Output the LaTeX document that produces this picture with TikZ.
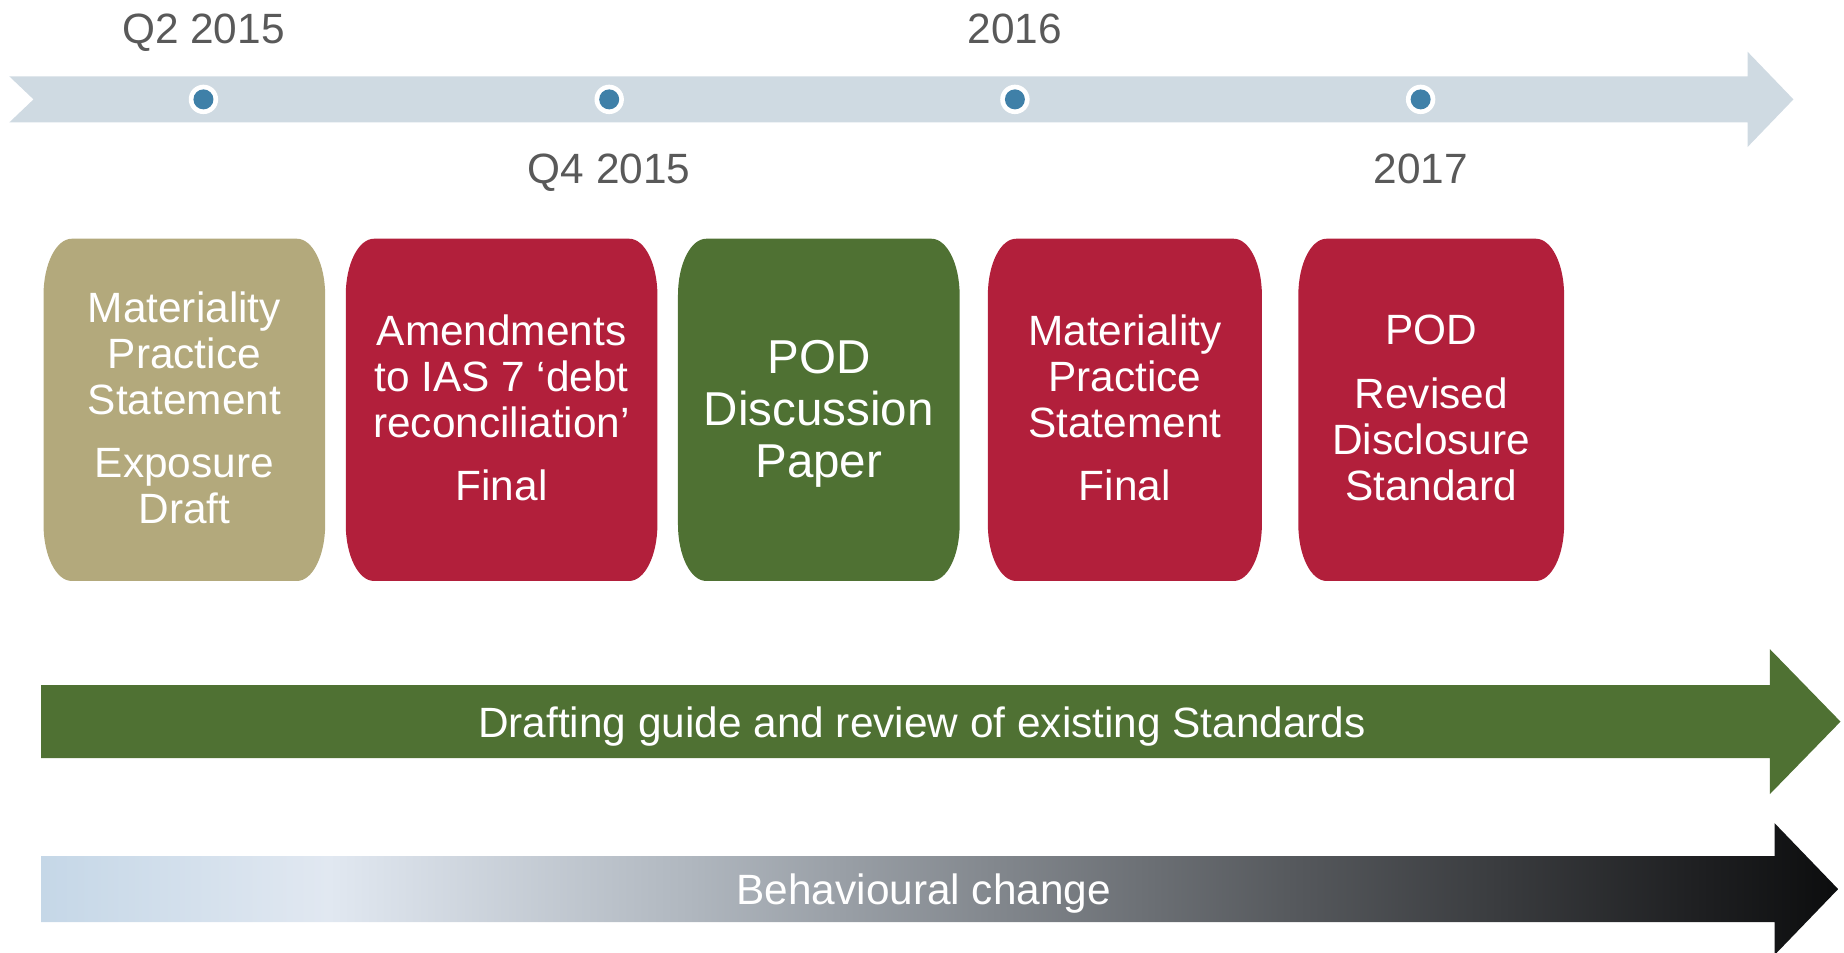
\documentclass[tikz,border=0pt]{standalone}
\usepackage{fontspec}
\setmainfont{Liberation Sans}

% Colours of the shading of the lowest arrow
\definecolor{r197g215b231}{rgb}{0.772549,0.843137,0.905882}
\definecolor{r225g232b241}{rgb}{0.882353,0.909804,0.945098}
\definecolor{r176g183b191}{rgb}{0.690196,0.717647,0.749020}
\definecolor{r85g88b92}{rgb}{0.333333,0.345098,0.360784}
\definecolor{r31g32b34}{rgb}{0.121569,0.125490,0.133333}
\definecolor{r12g13b14}{rgb}{0.047059,0.050980,0.054902}
\pgfdeclarehorizontalshading{behaviour}{100bp}{color(0bp)=(r197g215b231); color(25bp)=(r197g215b231); color(33bp)=(r225g232b241); color(43bp)=(r176g183b191); color(60bp)=(r85g88b92); color(71bp)=(r31g32b34); color(75bp)=(r12g13b14); color(100bp)=(r12g13b14)}

\begin{document}
\begin{tikzpicture}
                            % \clip (0,0) rectangle (15.680000,8.100000);
                            \useasboundingbox (0,0) rectangle (15.680000,8.100000);
                            {\fontsize{10.25}{11.1}\selectfont

                            % Changing color 207 218 226
                            \definecolor{r207g218b226}{rgb}{0.811765,0.854902,0.886275}%
                            \color{r207g218b226}%

                            % Filling timeline arrow
                            \fill (0.080000,7.450000) -- (14.860000,7.450000) -- (14.860000,7.660000) -- (15.250000,7.255000) -- (14.860000,6.850000) -- (14.860000,7.060000) -- (0.080000,7.060000) -- (0.285000,7.255000) -- cycle;%

                            % Changing color 255 255 255
                            \color{white}%

                            % Filling rings of dates
                            \fill (1.730000,7.255000) circle (0.125000);%
                            \fill (5.180000,7.255000) circle (0.125000);%
                            \fill (8.630000,7.255000) circle (0.125000);%
                            \fill (12.080000,7.255000) circle (0.125000);%

                            % Changing color 63 128 168
                            \definecolor{r63g128b168}{rgb}{0.247059,0.501961,0.658824}%
                            \color{r63g128b168}%

                            % Filling dots of dates
                            \fill (1.730000,7.255000) circle (0.085000);%
                            \fill (5.180000,7.255000) circle (0.085000);%
                            \fill (8.630000,7.255000) circle (0.085000);%
                            \fill (12.080000,7.255000) circle (0.085000);%

                            % Changing color 89 89 89
                            \definecolor{r89g89b89}{rgb}{0.349020,0.349020,0.349020}%
                            \color{r89g89b89}%

                            % Marking dates
                            \draw (1.730000,7.734000) node (qtwo) [anchor=base] {Q2 2015};%
                            \draw (8.630000,7.734000) node (ysixteen) [anchor=base] {2016};%
                            \draw (5.180000,6.540000) node (qfour) [anchor=base] {Q4 2015};%
                            \draw (12.080000,6.540000) node (yseventeen) [anchor=base] {2017};%

                            % Changing color 179 169 124
                            \definecolor{r179g169b124}{rgb}{0.701961,0.662745,0.486275}%
                            \color{r179g169b124}%

                            % Filling box exposure draft
                            \fill (0.610000,6.070000) -- (2.525000,6.070000) arc [start angle=90, end angle=0, x radius=0.24, y radius=0.48] -- (2.765000,3.640000) arc [start angle=0, end angle=-90, x radius=0.24, y radius=0.48] -- (0.610000,3.160000) arc [start angle=270, end angle=180, x radius=0.24, y radius=0.48] -- (0.370000,5.590000) arc [start angle=180, end angle=90, x radius=0.24, y radius=0.48] -- cycle;%

                            % Changing color 178 31 59
                            \definecolor{r178g31b59}{rgb}{0.698039,0.121569,0.231373}%
                            \color{r178g31b59}%

                            % Filling box amendments
                            \fill (3.180000,6.070000) -- (5.350000,6.070000) arc [start angle=90, end angle=0, x radius=0.24, y radius=0.48] -- (5.590000,3.640000) arc [start angle=0, end angle=-90, x radius=0.24, y radius=0.48] -- (3.180000,3.160000) arc [start angle=270, end angle=180, x radius=0.24, y radius=0.48] -- (2.940000,5.590000) arc [start angle=180, end angle=90, x radius=0.24, y radius=0.48] -- cycle;%

                            % Filling box materiality final
                            \fill (8.640000,6.070000) -- (10.490000,6.070000) arc [start angle=90, end angle=0, x radius=0.24, y radius=0.48] -- (10.730000,3.640000) arc [start angle=0, end angle=-90, x radius=0.24, y radius=0.48] -- (8.640000,3.160000) arc [start angle=270, end angle=180, x radius=0.24, y radius=0.48] -- (8.400000,5.590000) arc [start angle=180, end angle=90, x radius=0.24, y radius=0.48] -- cycle;%

                            % Filling box disclosure standard
                            \fill (11.280000,6.070000) -- (13.060000,6.070000) arc [start angle=90, end angle=0, x radius=0.24, y radius=0.48] -- (13.300000,3.640000) arc [start angle=0, end angle=-90, x radius=0.24, y radius=0.48] -- (11.280000,3.160000) arc [start angle=270, end angle=180, x radius=0.24, y radius=0.48] -- (11.040000,5.590000) arc [start angle=180, end angle=90, x radius=0.24, y radius=0.48] -- cycle;%

                            % Changing color 79 113 51
                            \definecolor{r79g113b51}{rgb}{0.309804,0.443137,0.200000}%
                            \color{r79g113b51}%

                            % Filling box discussion paper
                            \fill (6.005000,6.070000) -- (7.920000,6.070000) arc [start angle=90, end angle=0, x radius=0.24, y radius=0.48] -- (8.160000,3.640000) arc [start angle=0, end angle=-90, x radius=0.24, y radius=0.48] -- (6.005000,3.160000) arc [start angle=270, end angle=180, x radius=0.24, y radius=0.48] -- (5.765000,5.590000) arc [start angle=180, end angle=90, x radius=0.24, y radius=0.48] -- cycle;%

                            % Filling drafting arrow
                            \fill (0.350000,2.275000) -- (15.050000,2.275000) -- (15.050000,2.580000) -- (15.650000,1.964000) -- (15.050000,1.348000) -- (15.050000,1.654000) -- (0.350000,1.654000) -- cycle;%

                            % Shading behaviour arrow
                            \shade [shading=behaviour] (0.350000,0.820000) -- (15.090000,0.820000) -- (15.090000,1.100000) -- (15.630000,0.540000) -- (15.090000,-0.020000) -- (15.090000,0.260000) -- (0.350000,0.260000) -- cycle;%

                            % Changing color 255 255 255
                            \color{white}%

                            % Marking texts of boxes
                            \draw (1.567500,4.630000) node (expdraft) [align=center] {Materiality\\Practice\\Statement\\[4.3pt]Exposure\\Draft};%
                            \draw (4.265000,4.630000) node (amend) [align=center] {Amendments\\to IAS 7 ‘debt\\reconciliation’\\[4.3pt]Final};%
                            \draw (6.962500,4.580000) node (discpaper) [align=center, font=\fontsize{11.5}{12.66}\selectfont] {POD\\Discussion\\Paper};%
                            \draw (9.565000,4.630000) node (matfinal) [align=center] {Materiality\\Practice\\Statement\\[4.3pt]Final};%
                            \draw (12.170000,4.630000) node (revdisc) [align=center] {POD\\[4.3pt]Revised\\Disclosure\\Standard};%

                            % Marking texts of arrows
                            \draw (7.840000,1.826000) node (drafting) [anchor=base] {Drafting guide and review of existing Standards};%
                            \draw (7.855000,0.406000) node (behav) [anchor=base] {Behavioural change};%
                            \color{black}
                            }
                            \end{tikzpicture}
\end{document}
